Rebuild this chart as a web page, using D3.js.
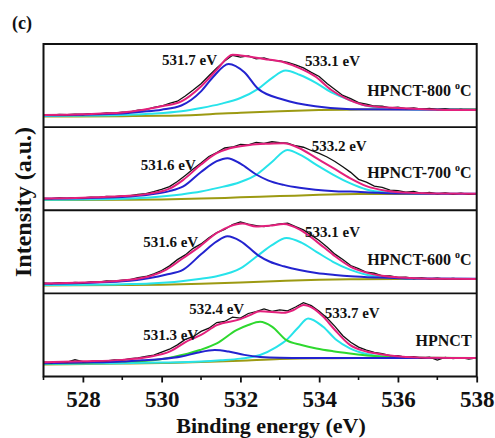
<!DOCTYPE html>
<html>
<head>
<meta charset="utf-8">
<script src="https://cdn.jsdelivr.net/npm/d3@7.9.0/dist/d3.min.js"></script>
<style>
  body { margin: 0; background: #fff; }
  svg text { font-family: "Liberation Serif", "Times New Roman", serif; font-weight: bold; fill: #111; }
</style>
</head>
<body>
<svg id="chart" width="495" height="438"></svg>
<script>
// ---- data (binding energy in eV, intensity in a.u. per panel) ----
const tickValues = [528, 530, 532, 534, 536, 538];
const minorTicks = [527, 529, 531, 533, 535, 537];
const sampleNames = ["HPNCT-800", "HPNCT-700", "HPNCT-600", "HPNCT"];

const rawEnergy = [527.0, 527.2, 527.4, 527.6, 527.8, 528.0, 528.2, 528.4, 528.6, 528.8,
  529.0, 529.2, 529.4, 529.6, 529.8, 530.0, 530.2, 530.4, 530.6, 530.8,
  531.0, 531.2, 531.4, 531.6, 531.8, 532.0, 532.2, 532.4, 532.6, 532.8,
  533.0, 533.2, 533.4, 533.6, 533.8, 534.0, 534.2, 534.4, 534.6, 534.8,
  535.0, 535.2, 535.4, 535.6, 535.8, 536.0, 536.2, 536.4, 536.6, 536.8,
  537.0, 537.2, 537.4, 537.6, 537.8, 538.0];

// measured spectra
const raw800 = [14.8, 14.3, 15.2, 14.9, 15.6, 15.2, 16.2, 16.0, 17.2, 16.8,
  17.9, 18.4, 20.3, 21.0, 23.8, 25.4, 28.6, 31.2, 37.5, 44.6,
  52.3, 61.8, 71.2, 79.5, 86.4, 84.2, 85.8, 82.1, 83.4, 80.2,
  79.6, 77.8, 74.9, 71.2, 65.8, 60.9, 52.4, 45.3, 38.1, 34.2,
  29.5, 27.8, 25.4, 25.1, 23.2, 24.0, 22.3, 23.1, 21.6, 22.4,
  21.0, 21.8, 20.5, 21.3, 20.2, 20.9];
const raw700 = [14.3, 13.9, 14.8, 14.4, 15.2, 14.9, 15.8, 15.5, 16.6, 16.3,
  17.4, 17.6, 19.2, 19.9, 22.3, 25.1, 28.4, 34.6, 41.9, 49.5,
  56.8, 64.7, 69.5, 74.9, 76.1, 79.3, 78.6, 81.5, 80.3, 82.4,
  81.2, 80.8, 77.6, 75.8, 71.9, 68.4, 64.1, 58.7, 52.3, 45.6,
  37.2, 33.8, 29.1, 27.6, 24.3, 23.5, 21.9, 22.6, 20.4, 21.5,
  19.6, 20.8, 19.3, 20.6, 19.2, 20.1];
const raw600 = [12.4, 11.8, 12.9, 12.3, 13.2, 12.7, 13.9, 13.6, 14.9, 14.6,
  15.9, 16.5, 18.9, 20.3, 23.4, 27.5, 33.1, 40.6, 46.3, 54.2,
  59.5, 66.8, 73.1, 76.9, 82.8, 85.9, 83.2, 81.6, 80.2, 82.1,
  83.5, 84.6, 80.2, 76.3, 70.1, 63.5, 55.9, 47.2, 40.8, 33.5,
  29.8, 25.4, 24.2, 21.1, 20.9, 19.2, 19.6, 17.9, 18.7, 17.4,
  18.2, 17.1, 17.9, 17.0, 17.6, 17.1];
const rawBase = [17.2, 16.8, 17.9, 17.4, 20.1, 18.0, 18.3, 19.2, 18.9, 19.9,
  19.6, 21.4, 22.3, 24.1, 25.8, 29.4, 32.8, 38.1, 44.6, 47.9,
  54.3, 58.1, 64.9, 66.2, 71.4, 70.2, 75.8, 78.1, 81.3, 78.4,
  80.2, 78.9, 83.6, 88.9, 85.2, 78.6, 70.4, 60.3, 49.1, 41.2,
  35.4, 31.8, 28.9, 27.6, 25.2, 25.0, 22.9, 23.8, 22.1, 23.2,
  19.8, 22.9, 21.6, 22.8, 20.9, 22.5];

// fitted curves, [energy, intensity]
const bkg800 = [[527, 12.8], [529, 13.2], [530, 13.6], [531, 15], [532, 17.4], [533, 19.2], [534, 20.6], [535, 21.2], [536, 21.4], [538, 21.4]];
const peak800a = [[527, 14.4], [528, 15], [529, 16.5], [529.5, 18.5], [530, 21], [530.5, 26], [531, 43], [531.3, 60], [531.7, 76], [532.1, 66], [532.45, 46], [533.1, 33], [533.9, 25], [534.8, 21.5], [536, 21.2], [538, 21]];
const peak800b = [[527, 13.5], [529, 14.5], [529.7, 16], [530.5, 19], [531, 23], [531.5, 28], [532, 35], [532.45, 46], [532.8, 59], [533.15, 68], [533.5, 63], [533.93, 53], [534.3, 42], [534.75, 33], [535.1, 27], [535.5, 23.5], [536, 21.8], [537, 21], [538, 21]];
const fit800 = [[527, 14.5], [528, 15.5], [529, 17.5], [529.5, 20.5], [530, 25], [530.5, 31], [531, 49], [531.4, 69], [531.8, 87], [532.2, 85], [532.6, 82], [533.1, 78], [533.5, 71], [533.9, 61], [534.3, 45], [534.7, 34], [535.1, 27], [535.6, 24], [536, 23], [537, 21], [538, 20.5]];

const bkg700 = [[527, 12.3], [529, 12.6], [530, 13], [531, 14], [532, 15.5], [533, 17], [534, 18.5], [535, 19.4], [536, 19.6], [538, 19.6]];
const peak700a = [[527, 13.8], [528, 14.5], [529, 16], [529.7, 19], [530.2, 23], [530.55, 28.6], [531, 46], [531.4, 59], [531.67, 62.6], [532, 56], [532.4, 43], [532.7, 36], [533.1, 30.5], [533.5, 27], [533.9, 24.6], [534.4, 23], [534.8, 22.5], [535.5, 21], [536, 20.3], [538, 19.8]];
const peak700b = [[527, 12.6], [529, 13.8], [529.7, 15.4], [530.5, 19], [531, 22.5], [531.4, 26.6], [532, 34], [532.4, 42.6], [532.8, 58], [533.19, 72.6], [533.55, 66], [533.93, 54.6], [534.35, 43], [534.78, 32.6], [535.2, 25], [535.7, 21.5], [536.5, 20], [538, 19.6]];
const fit700 = [[527, 14], [528, 15], [529, 17], [529.7, 20], [530.2, 26], [530.55, 36.6], [531, 55], [531.4, 68.6], [531.73, 74.6], [532.24, 78.6], [532.7, 80], [533.09, 80.6], [533.5, 74.6], [533.93, 62.6], [534.36, 50.6], [534.78, 38.6], [535.2, 29], [535.7, 23.5], [536.3, 21], [537, 20.2], [538, 19.8]];

const bkg600 = [[527, 9.5], [529, 10], [530, 10.5], [531, 11.5], [532, 13], [533, 14.8], [534, 16.3], [535, 17], [536, 17.2], [538, 17.2]];
const peak600a = [[527, 11.5], [528, 12.5], [529, 14.5], [529.7, 18.6], [530.1, 22.5], [530.55, 28.6], [531, 47], [531.4, 62.6], [531.67, 68.6], [532, 63], [532.45, 45.8], [532.75, 38], [533.1, 32.6], [533.5, 28], [533.93, 24.6], [534.4, 22.2], [534.8, 20.6], [535.5, 19], [536.2, 18], [538, 17.5]];
const peak600b = [[527, 10], [529, 11], [529.7, 11.8], [530.5, 14.5], [531, 17.5], [531.4, 20.6], [532, 30], [532.45, 45.8], [532.8, 58], [533.17, 66.6], [533.55, 61], [533.93, 50], [534.35, 38], [534.78, 28.6], [535.2, 22.5], [535.7, 19.3], [536.5, 17.6], [538, 17.2]];
const fit600 = [[527, 12], [528, 13], [529, 15.5], [529.7, 20.6], [530.12, 28.6], [530.55, 42.6], [530.97, 56.6], [531.4, 72.6], [531.73, 80.6], [532.05, 84], [532.4, 80.5], [532.75, 81.5], [533.1, 83.4], [533.51, 76.6], [533.93, 62.6], [534.35, 46.6], [534.78, 32.6], [535.2, 25], [535.7, 20.5], [536.3, 18.5], [537, 17.6], [538, 17.3]];

const bkgBase = [[527, 14.5], [529, 15.5], [530, 16.2], [531, 17.3], [532, 19], [533, 21], [534, 22], [535, 22.2], [538, 22.2]];
const peakBaseA = [[527, 16], [528, 16.8], [529, 18], [529.5, 19.5], [530, 21], [530.5, 24], [530.9, 28.5], [531.35, 31.8], [531.7, 30], [532.1, 26], [532.5, 23.5], [533, 22.5], [534, 22.3], [536, 22.2], [538, 22.2]];
const peakBaseB = [[527, 15.5], [528, 16.5], [529, 18], [529.7, 19.3], [530.3, 23.5], [530.97, 31.8], [531.4, 39.8], [531.9, 55.8], [532.2, 62], [532.5, 65.8], [532.8, 60], [533.17, 43.8], [533.55, 38], [533.93, 33.8], [534.35, 30.5], [534.78, 27.8], [535.3, 25], [535.8, 23.5], [536.5, 22.7], [538, 22.3]];
const peakBaseC = [[527, 15], [529, 16], [530, 16.7], [531, 18], [531.5, 19.5], [532, 21.5], [532.5, 25.8], [532.9, 35], [533.17, 43.8], [533.45, 58], [533.72, 69.8], [534.1, 59.8], [534.44, 43.8], [534.78, 33.8], [535.2, 27], [535.6, 24], [536.2, 22.8], [537, 22.4], [538, 22.3]];
const fitBase = [[527, 17], [528, 18.2], [529, 20], [529.7, 23.8], [530.2, 30], [530.7, 43.8], [531, 50], [531.4, 61.8], [532, 69], [532.24, 73.8], [532.5, 78.5], [533.1, 76.6], [533.35, 80], [533.6, 86], [533.85, 82], [534.1, 72], [534.4, 56], [534.78, 38], [535.2, 30], [535.6, 26.5], [536.2, 23.5], [537, 22.5], [538, 22.3]];

// peak labels: text, energy / intensity anchor
const labels800 = [["531.7 eV", 530.01, 74.7], ["533.1 eV", 533.64, 74.1]];
const labels700 = [["531.6 eV", 529.47, 48.8], ["533.2 eV", 533.81, 70.8]];
const labels600 = [["531.6 eV", 529.53, 55.7], ["533.1 eV", 533.64, 68.4]];
const labelsBase = [["531.3 eV", 529.53, 44], ["532.4 eV", 530.7, 75.3], ["533.7 eV", 534.14, 70.1]];

const colors = {
  bkg: "#9c9a12", blue: "#2323cf", cyan: "#27e3ea", green: "#2ed82e",
  fit: "#e3207c", raw: "#111"
};

const panels = [
  { name: sampleNames[0], deg: true, raw: raw800, bkg: bkg800, fit: fit800, comps: [[peak800b, colors.cyan], [peak800a, colors.blue]], labels: labels800, nameY: 37.1 },
  { name: sampleNames[1], deg: true, raw: raw700, bkg: bkg700, fit: fit700, comps: [[peak700b, colors.cyan], [peak700a, colors.blue]], labels: labels700, nameY: 38.8 },
  { name: sampleNames[2], deg: true, raw: raw600, bkg: bkg600, fit: fit600, comps: [[peak600b, colors.cyan], [peak600a, colors.blue]], labels: labels600, nameY: 34.3 },
  { name: sampleNames[3], deg: false, raw: rawBase, bkg: bkgBase, fit: fitBase, comps: [[peakBaseC, colors.cyan], [peakBaseB, colors.green], [peakBaseA, colors.blue]], labels: labelsBase, nameY: 36.7 }
];

// ---- layout ----
const plotLeft = 43.5, plotRight = 476.7, plotTop = 44, plotBottom = 376.5;
const panelH = (plotBottom - plotTop) / panels.length;

const svg = d3.select('#chart');
const x = d3.scaleLinear().domain([527, 538]).range([plotLeft, plotRight]);

const fitLine = (y) => d3.line()
  .x(d => x(d[0]))
  .y(d => y(d[1]))
  .curve(d3.curveMonotoneX);

panels.forEach((p, i) => {
  const pBottom = plotTop + panelH * (i + 1);
  const y = d3.scaleLinear().domain([0, 100]).range([pBottom, pBottom - panelH]);
  const g = svg.append('g');
  const line = fitLine(y);

  g.append('path').attr('d', line(p.bkg))
    .attr('fill', 'none').attr('stroke', colors.bkg).attr('stroke-width', 2);

  p.comps.forEach(([pts, col]) => {
    g.append('path').attr('d', line(pts))
      .attr('fill', 'none').attr('stroke', col).attr('stroke-width', 2);
  });

  const rawLine = d3.line()
    .x((d, k) => x(rawEnergy[k]))
    .y(d => y(d));
  g.append('path').attr('d', rawLine(p.raw))
    .attr('fill', 'none').attr('stroke', colors.raw).attr('stroke-width', 1.3);

  g.append('path').attr('d', line(p.fit))
    .attr('fill', 'none').attr('stroke', colors.fit).attr('stroke-width', 2);

  p.labels.forEach(([t, e, v]) => {
    g.append('text')
      .attr('x', x(e)).attr('y', y(v))
      .attr('font-size', 15)
      .text(t);
  });

  const name = g.append('text')
    .attr('x', x(537.87)).attr('y', y(p.nameY))
    .attr('text-anchor', 'end')
    .attr('font-size', 16)
    .text(p.name + (p.deg ? ' ' : ''));
  if (p.deg) {
    name.append('tspan').attr('font-size', 10).attr('dy', -7).text('o');
    name.append('tspan').attr('dy', 7).text('C');
  }

  if (i > 0) {
    svg.append('line')
      .attr('x1', plotLeft).attr('x2', plotRight)
      .attr('y1', plotTop + panelH * i).attr('y2', plotTop + panelH * i)
      .attr('stroke', '#111').attr('stroke-width', 1.8);
  }
});

// frame
svg.append('rect')
  .attr('x', plotLeft).attr('y', plotTop)
  .attr('width', plotRight - plotLeft).attr('height', plotBottom - plotTop)
  .attr('fill', 'none').attr('stroke', '#111').attr('stroke-width', 2);

// bottom axis
const axis = svg.append('g')
  .attr('transform', `translate(0,${plotBottom})`)
  .call(d3.axisBottom(x).tickValues(tickValues).tickSize(6).tickPadding(8.5).tickFormat(d3.format('d')));
axis.select('.domain').remove();
axis.selectAll('.tick line').attr('stroke', '#111').attr('stroke-width', 1.8);
axis.selectAll('.tick text')
  .attr('font-size', 23)
  .attr('fill', '#111');

svg.append('g').selectAll('line')
  .data(minorTicks)
  .join('line')
  .attr('x1', d => x(d)).attr('x2', d => x(d))
  .attr('y1', plotBottom).attr('y2', plotBottom + 3.5)
  .attr('stroke', '#111').attr('stroke-width', 1.6);

// axis titles
svg.append('text')
  .attr('x', 271).attr('y', 433)
  .attr('text-anchor', 'middle')
  .attr('font-size', 22)
  .text('Binding energy (eV)');

svg.append('text')
  .attr('transform', 'translate(31,202) rotate(-90)')
  .attr('text-anchor', 'middle')
  .attr('font-size', 24)
  .text('Intensity (a.u.)');

svg.append('text')
  .attr('x', 12).attr('y', 29)
  .attr('font-size', 18)
  .text('(c)');
</script>
</body>
</html>
